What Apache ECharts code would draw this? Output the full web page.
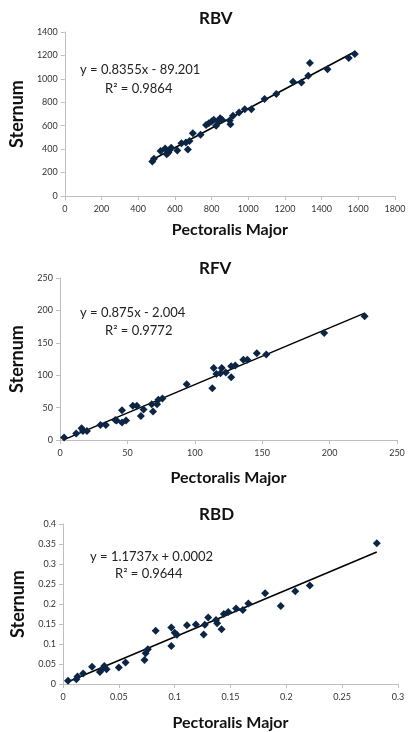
<!DOCTYPE html>
<html>
<head>
<meta charset="utf-8">
<script src="https://cdn.jsdelivr.net/npm/echarts@6/dist/echarts.min.js"></script>
<style>
html,body{margin:0;padding:0;background:#fff}
#main{width:416px;height:732px}
</style>
</head>
<body>
<div id="main"></div>
<script>
// RBV: [Pectoralis Major, Sternum]
var rbvPoints = [
	[477, 294], [486, 319], [522, 385], [547, 405], [556, 356], [569, 388], [580, 411],
	[565, 372], [613, 388], [636, 450], [660, 456], [671, 396], [680, 470], [698, 536],
	[740, 522], [770, 607], [785, 622], [800, 636], [812, 650], [825, 599], [835, 640],
	[847, 664], [857, 650], [899, 644], [903, 613], [917, 684], [950, 713], [981, 741],
	[1017, 741], [1089, 827], [1153, 870], [1244, 975], [1290, 969], [1327, 1026],
	[1336, 1135], [1432, 1083], [1548, 1177], [1581, 1212]
];
var rbvTrend = [[477, 309.3], [1581, 1231.7]];

// RFV
var rfvPoints = [
	[3, 4], [12, 10], [16, 18], [17, 14], [20, 14], [30, 23], [34, 23], [41, 31], [42, 30],
	[46, 46], [46, 27], [49, 30], [54, 53], [57, 53], [60, 37], [62, 47], [68, 55], [69, 44],
	[72, 55], [73, 62], [76, 64], [94, 86], [113, 80], [114, 111], [116, 102], [119, 103],
	[120, 111], [123, 104], [127, 97], [127, 114], [130, 115], [136, 124], [139, 124],
	[146, 134], [153, 132], [196, 165], [226, 191]
];
var rfvTrend = [[3, 0.62], [226, 195.75]];

// RBD
var rbdPoints = [
	[0.0045, 0.008], [0.012, 0.012], [0.013, 0.019], [0.018, 0.026], [0.026, 0.043],
	[0.033, 0.030], [0.035, 0.037], [0.037, 0.045], [0.039, 0.037], [0.050, 0.041],
	[0.056, 0.054], [0.073, 0.060], [0.074, 0.077], [0.076, 0.087], [0.083, 0.133],
	[0.097, 0.095], [0.097, 0.141], [0.100, 0.128], [0.102, 0.123], [0.111, 0.147],
	[0.119, 0.149], [0.126, 0.124], [0.127, 0.148], [0.130, 0.166], [0.137, 0.160],
	[0.138, 0.152], [0.142, 0.137], [0.144, 0.175], [0.148, 0.180], [0.155, 0.189],
	[0.161, 0.185], [0.166, 0.201], [0.181, 0.227], [0.195, 0.195], [0.208, 0.232],
	[0.221, 0.246], [0.281, 0.352]
];
var rbdTrend = [[0.004, 0.0049], [0.281, 0.3300]];

var titles = ['RBV', 'RFV', 'RBD'];
var equations = [
	['y = 0.8355x - 89.201', 'R² = 0.9864'],
	['y = 0.875x - 2.004', 'R² = 0.9772'],
	['y = 1.1737x + 0.0002', 'R² = 0.9644']
];

var dom = document.getElementById("main");
var myChart = echarts.init(dom);
var option = null;

var font = 'Lato, "Open Sans", sans-serif';
var axisGray = '#bfbfbf';
var dotColor = '#0b2545';

function plain(v) {
	return String(+v.toFixed(4));
}

function xAx(idx, max, interval, gap) {
	return {
		gridIndex: idx,
		type: 'value',
		min: 0, max: max, interval: interval,
		name: 'Pectoralis Major',
		nameLocation: 'middle',
		nameGap: gap,
		nameTextStyle: {fontFamily: font, fontWeight: 'bold', fontSize: 16, color: '#111'},
		axisLine: {lineStyle: {color: axisGray}},
		axisTick: {show: true, length: 4, lineStyle: {color: axisGray}},
		axisLabel: {fontFamily: font, fontSize: 9, color: '#333', margin: 9, formatter: plain},
		splitLine: {show: false}
	};
}
function yAx(idx, max, interval) {
	return {
		gridIndex: idx,
		type: 'value',
		min: 0, max: max, interval: interval,
		name: 'Sternum',
		nameLocation: 'middle',
		nameGap: 27,
		nameTextStyle: {fontFamily: font, fontWeight: 'bold', fontSize: 18, color: '#111'},
		axisLine: {show: true, lineStyle: {color: axisGray}},
		axisTick: {show: true, length: 4, lineStyle: {color: axisGray}},
		axisLabel: {fontFamily: font, fontSize: 9, color: '#333', margin: 7, formatter: plain},
		splitLine: {show: false}
	};
}
function scatter(idx, data) {
	return {
		type: 'scatter', xAxisIndex: idx, yAxisIndex: idx,
		data: data, symbol: 'diamond', symbolSize: 8,
		itemStyle: {color: dotColor, opacity: 1}, z: 3
	};
}
function trend(idx, data) {
	return {
		type: 'line', xAxisIndex: idx, yAxisIndex: idx,
		data: data, symbol: 'none',
		lineStyle: {color: '#000', width: 1.5}, z: 2
	};
}

var eqPos = [[135, 71, 90], [135, 314, 332], [145, 558, 575]];
var graphics = [];
eqPos.forEach(function(p, i) {
	graphics.push({type: 'text', left: p[0] - 55, top: p[1] - 8,
		style: {text: equations[i][0], font: '13px ' + font, fill: '#222'}});
	graphics.push({type: 'text', left: p[0] - 30, top: p[2] - 8,
		style: {text: equations[i][1], font: '13px ' + font, fill: '#222'}});
});

option = {
	backgroundColor: '#fff',
	animation: false,
	title: [
		{text: titles[0], top: 5},
		{text: titles[1], top: 255},
		{text: titles[2], top: 501}
	].map(function(t) {
		t.left = 194;
		t.textStyle = {fontFamily: font, fontWeight: 'bold', fontSize: 17, color: '#111'};
		return t;
	}),
	grid: [
		{left: 64, right: 21, top: 32, height: 164},
		{left: 60, right: 19, top: 278, height: 162},
		{left: 63, right: 18, top: 524, height: 164}
	],
	xAxis: [xAx(0, 1800, 200, 26), xAx(1, 250, 50, 30), xAx(2, 0.3, 0.05, 31)],
	yAxis: [yAx(0, 1400, 200), yAx(1, 250, 50), yAx(2, 0.4, 0.05)],
	series: [
		trend(0, rbvTrend), scatter(0, rbvPoints),
		trend(1, rfvTrend), scatter(1, rfvPoints),
		trend(2, rbdTrend), scatter(2, rbdPoints)
	],
	graphic: graphics
};

if(option && typeof option === "object") {
	myChart.setOption(option, true);
}
</script>
</body>
</html>
